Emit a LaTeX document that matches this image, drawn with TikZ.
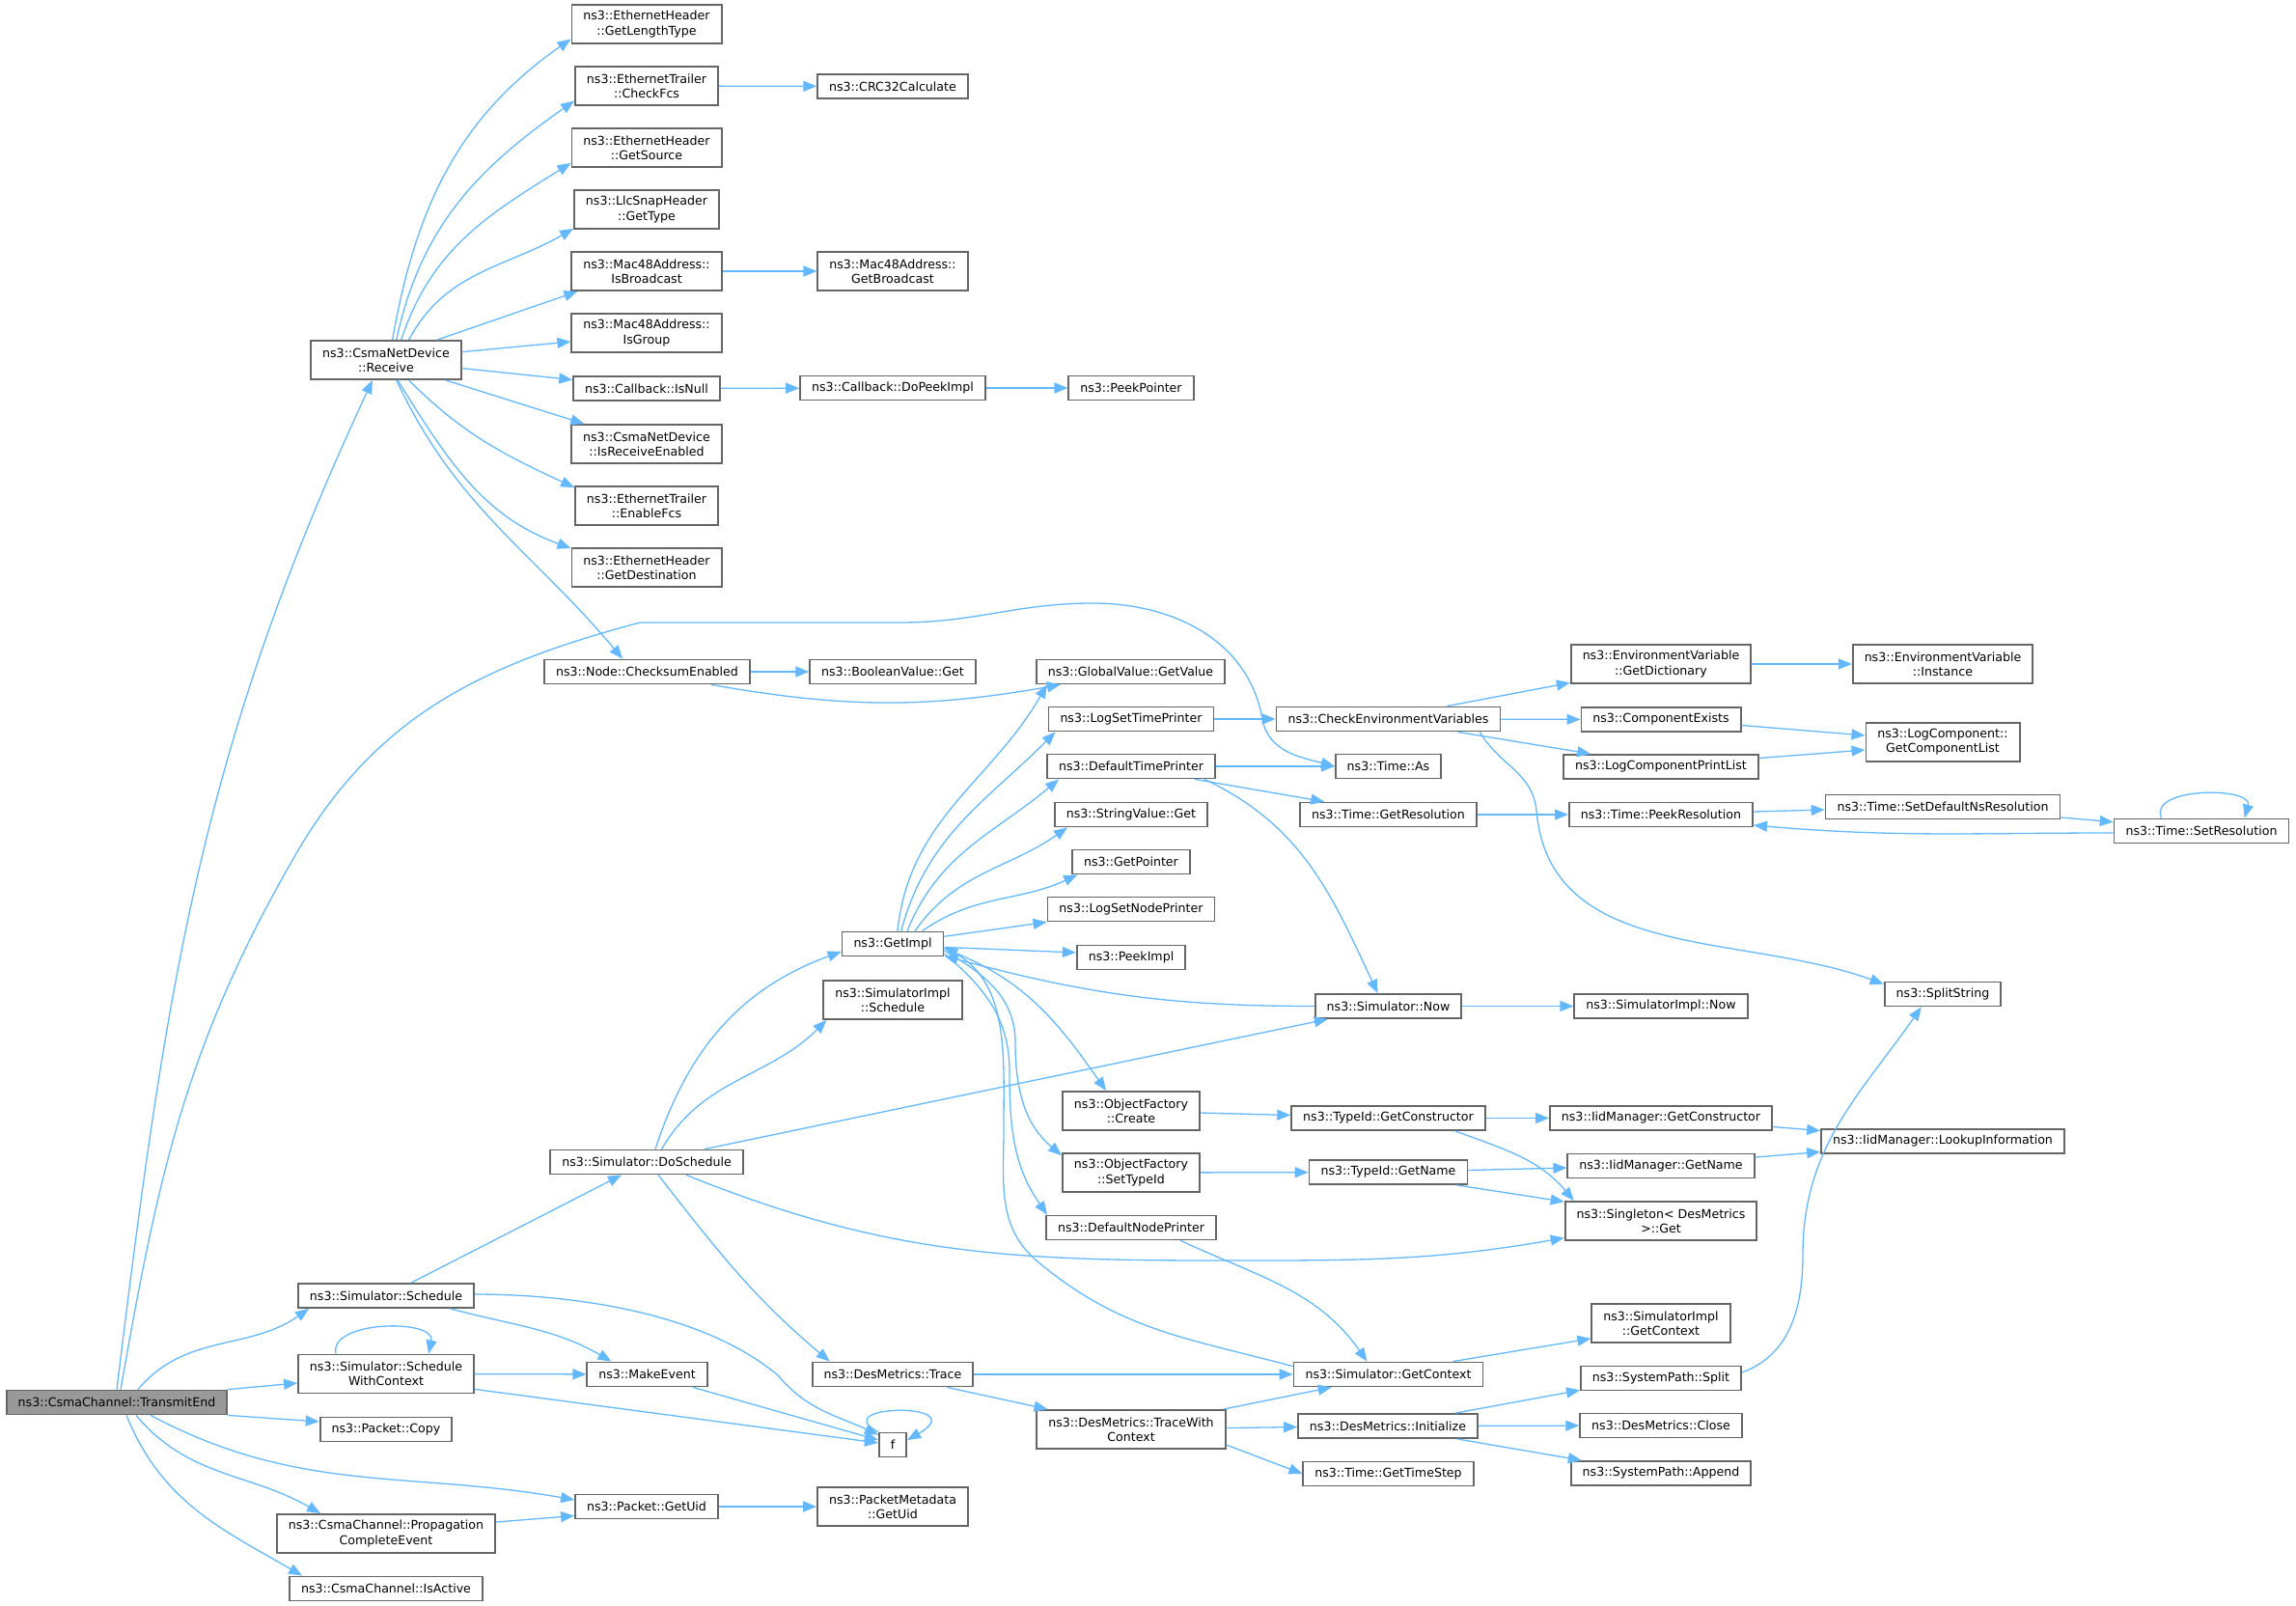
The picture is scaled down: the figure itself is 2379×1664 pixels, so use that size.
\documentclass[tikz,border=0pt]{standalone}
\usepackage{fontspec}
\setmainfont{DejaVu Sans}
\usepackage{tikz}
\usetikzlibrary{
  positioning,
  arrows.meta
}
\definecolor{edgeblue}{HTML}{63B8FF}
\definecolor{boxgray}{HTML}{666666}
\definecolor{rootgray}{HTML}{999999}
\newcommand{\graphfont}{\fontsize{6.3}{7.6}\selectfont}

\begin{document}
\begin{tikzpicture}[x=0.5pt,y=-0.5pt,>={Triangle[length=7pt,width=5.5pt]},
    fn/.style={draw=boxgray,line width=0.9pt,fill=white,inner xsep=6pt,inner ysep=3pt,minimum height=12.5pt,align=center,font=\graphfont},
    fnn/.style={fn,minimum height=20pt},
    root/.style={fn,fill=rootgray},
    call/.style={->,draw=edgeblue,line width=0.65pt}]
            \useasboundingbox (0,0) rectangle (2379,1664);

            \node[root] (te) at (121,1453) {ns3::CsmaChannel::TransmitEnd};

            \node[fnn] (recv) at (400,373) {ns3::CsmaNetDevice\\::Receive};
            \node[fn] (sched) at (400,1342.5) {ns3::Simulator::Schedule};
            \node[fnn] (schedctx) at (400,1423.5) {ns3::Simulator::Schedule\\WithContext};
            \node[fn] (pcopy) at (400,1481) {ns3::Packet::Copy};
            \node[fnn] (propev) at (400,1589) {ns3::CsmaChannel::Propagation\\CompleteEvent};
            \node[fn] (isact) at (400,1646) {ns3::CsmaChannel::IsActive};

            \node[fnn] (glt) at (670,25) {ns3::EthernetHeader\\::GetLengthType};
            \node[fnn] (chkfcs) at (670,89) {ns3::EthernetTrailer\\::CheckFcs};
            \node[fnn] (gsrc) at (670,153) {ns3::EthernetHeader\\::GetSource};
            \node[fnn] (llc) at (670,217) {ns3::LlcSnapHeader\\::GetType};
            \node[fnn] (isbc) at (670,281) {ns3::Mac48Address::\\IsBroadcast};
            \node[fnn] (isgrp) at (670,345) {ns3::Mac48Address::\\IsGroup};
            \node[fn] (isnull) at (670,402.5) {ns3::Callback::IsNull};
            \node[fnn] (isrecv) at (670,460) {ns3::CsmaNetDevice\\::IsReceiveEnabled};
            \node[fnn] (enfcs) at (670,524) {ns3::EthernetTrailer\\::EnableFcs};
            \node[fnn] (gdst) at (670,588) {ns3::EthernetHeader\\::GetDestination};
            \node[fn] (cksum) at (670.5,696) {ns3::Node::ChecksumEnabled};
            \node[fn] (dosch) at (670,1204) {ns3::Simulator::DoSchedule};
            \node[fn] (mkev) at (670.5,1424) {ns3::MakeEvent};
            \node[fn] (puid) at (670,1561) {ns3::Packet::GetUid};

            \node[fn] (crc) at (925,89.5) {ns3::CRC32Calculate};
            \node[fnn] (gbc) at (925,281) {ns3::Mac48Address::\\GetBroadcast};
            \node[fn] (dopeek) at (925,402) {ns3::Callback::DoPeekImpl};
            \node[fn] (boolget) at (925,696) {ns3::BooleanValue::Get};
            \node[fn] (getimpl) at (925,978) {ns3::GetImpl};
            \node[fnn] (simimplsch) at (925,1036) {ns3::SimulatorImpl\\::Schedule};
            \node[fn] (trace) at (925,1424) {ns3::DesMetrics::Trace};
            \node[fn] (f) at (925,1497) {f};
            \node[fnn] (pmuid) at (925,1561) {ns3::PacketMetadata\\::GetUid};

            \node[fn] (peekptr) at (1172,402) {ns3::PeekPointer};
            \node[fn] (gvget) at (1171.5,696) {ns3::GlobalValue::GetValue};
            \node[fn] (logtp) at (1172,745) {ns3::LogSetTimePrinter};
            \node[fn] (deftp) at (1172,794) {ns3::DefaultTimePrinter};
            \node[fn] (strget) at (1172,844) {ns3::StringValue::Get};
            \node[fn] (getptr) at (1172,893) {ns3::GetPointer};
            \node[fn] (lognp) at (1172,942) {ns3::LogSetNodePrinter};
            \node[fn] (peekimpl) at (1172,992) {ns3::PeekImpl};
            \node[fnn] (ofcreate) at (1172,1151) {ns3::ObjectFactory\\::Create};
            \node[fnn] (ofsettid) at (1172,1215) {ns3::ObjectFactory\\::SetTypeId};
            \node[fn] (defnp) at (1172,1272) {ns3::DefaultNodePrinter};
            \node[fnn] (tracectx) at (1172,1481) {ns3::DesMetrics::TraceWith\\Context};

            \node[fn] (checkenv) at (1438.5,745) {ns3::CheckEnvironmentVariables};
            \node[fn] (tas) at (1438.5,794) {ns3::Time::As};
            \node[fn] (tgetres) at (1438.5,844) {ns3::Time::GetResolution};
            \node[fn] (simnow) at (1438.5,1042.5) {ns3::Simulator::Now};
            \node[fn] (tidctor) at (1438.5,1158.5) {ns3::TypeId::GetConstructor};
            \node[fn] (tidname) at (1438.5,1214.5) {ns3::TypeId::GetName};
            \node[fn] (simctx) at (1438.5,1424) {ns3::Simulator::GetContext};
            \node[fn] (dminit) at (1438,1477.5) {ns3::DesMetrics::Initialize};
            \node[fn] (tstep) at (1438.5,1527) {ns3::Time::GetTimeStep};

            \node[fnn] (envdict) at (1721,688) {ns3::EnvironmentVariable\\::GetDictionary};
            \node[fn] (compex) at (1721,745.5) {ns3::ComponentExists};
            \node[fn] (logcpl) at (1721,794.5) {ns3::LogComponentPrintList};
            \node[fn] (tpeekres) at (1721,844) {ns3::Time::PeekResolution};
            \node[fn] (simimplnow) at (1721,1042.5) {ns3::SimulatorImpl::Now};
            \node[fn] (iidctor) at (1721,1158.5) {ns3::IidManager::GetConstructor};
            \node[fn] (iidname) at (1721,1208) {ns3::IidManager::GetName};
            \node[fnn] (singget) at (1721,1265) {ns3::Singleton< DesMetrics\\>::Get};
            \node[fnn] (simimplctx) at (1721,1371) {ns3::SimulatorImpl\\::GetContext};
            \node[fn] (spsplit) at (1721,1428) {ns3::SystemPath::Split};
            \node[fn] (dmclose) at (1721,1477) {ns3::DesMetrics::Close};
            \node[fn] (spappend) at (1721,1526.5) {ns3::SystemPath::Append};

            \node[fnn] (envinst) at (2013,688) {ns3::EnvironmentVariable\\::Instance};
            \node[fnn] (lcgcl) at (2013,769) {ns3::LogComponent::\\GetComponentList};
            \node[fn] (tsetdef) at (2013,836) {ns3::Time::SetDefaultNsResolution};
            \node[fn] (splitstr) at (2013,1030) {ns3::SplitString};
            \node[fn] (iidlookup) at (2013,1182.5) {ns3::IidManager::LookupInformation};

            \node[fn] (tsetres) at (2281,861) {ns3::Time::SetResolution};

            \draw[call] (te.north) to[out=83,in=245] ([xshift=-7pt]recv.south);
            \draw[call] ([xshift=2pt]te.north) to[out=80,in=240] (306,886) to[out=60,in=195] (663,645) -- (933,645) to[out=0,in=180] (1132,625) to[out=0,in=100] (1308,745) to[out=-80,in=165] (tas.west);
            \draw[call] ([xshift=11pt]te.north) to[out=50,in=215] ([xshift=6pt]sched.south west);
            \draw[call] (te.north east) -- ([yshift=-4.75pt]schedctx.west);
            \draw[call] (te.south east) -- ([yshift=4pt]pcopy.west);
            \draw[call] ([xshift=17.5pt]te.south) to[out=-28,in=170] ([yshift=3.5pt]puid.west);
            \draw[call] ([xshift=10pt]te.south) to[out=-50,in=150] ([xshift=23pt]propev.north west);
            \draw[call] ([xshift=5pt]te.south) to[out=-68,in=150] ([xshift=7pt]isact.north west);

            \draw[call] ([xshift=3.3pt]recv.north) to[out=80,in=215] ([yshift=2.75pt]glt.south west);
            \draw[call] ([xshift=5.4pt]recv.north) to[out=78,in=215] ([yshift=2.7pt]chkfcs.south west);
            \draw[call] ([xshift=7.9pt]recv.north) to[out=72,in=212] ([yshift=2.5pt]gsrc.south west);
            \draw[call] ([xshift=11.8pt]recv.north) to[out=62,in=210] ([yshift=0.5pt]llc.south west);
            \draw[call] ([xshift=26.5pt]recv.north) -- ([xshift=3.5pt]isbc.south west);
            \draw[call] ([yshift=4.2pt]recv.east) -- ([yshift=-4.5pt]isgrp.west);
            \draw[call] ([yshift=-4.3pt]recv.east) -- ([yshift=4.5pt]isnull.west);
            \draw[call] ([xshift=30.8pt]recv.south) -- ([xshift=7pt]isrecv.north west);
            \draw[call] ([xshift=11.8pt]recv.south) to[out=-45,in=155] ([yshift=-1pt]enfcs.north west);
            \draw[call] ([xshift=6pt]recv.south) to[out=-58,in=160] ([yshift=-0.5pt]gdst.north west);
            \draw[call] ([xshift=5.4pt]recv.south) to[out=-65,in=130] ([xshift=41pt]cksum.north west);

            \draw[call] (chkfcs) -- (crc);
            \draw[call] (isbc) -- (gbc);
            \draw[call] (isnull) -- (dopeek);
            \draw[call] (dopeek) -- (peekptr);
            \draw[call] (cksum) -- (boolget);
            \draw[call] ([xshift=-20.5pt]cksum.south east) to[out=-10,in=190] ([xshift=13pt]gvget.south west);

            \draw[call] ([xshift=13pt]sched.north) -- ([xshift=-13pt]dosch.south);
            \draw[call] ([xshift=-12.7pt]sched.south east) to[out=-15,in=150] ([xshift=13pt]mkev.north west);
            \draw[call] ([yshift=0.75pt]sched.east) to[out=0,in=140,looseness=0.8] (806,1425) to[out=-50,in=155] ([yshift=-1.5pt]f.north west);
            \draw[call] ([xshift=20pt]schedctx.north west) .. controls (340,1368) and (452,1366) .. ([xshift=68pt]schedctx.north west);
            \draw[call] (schedctx) -- (mkev);
            \draw[call] ([yshift=2.5pt]schedctx.south east) -- ([yshift=1pt]f.west);
            \draw[call] ([xshift=-7.75pt]mkev.south east) -- ([yshift=2.5pt]f.west);
            \draw[call] (f.north west) .. controls (855,1455) and (1010,1452) .. ([yshift=2.5pt]f.east);
            \draw[call] (puid) -- (pmuid);
            \draw[call] ([yshift=6pt]propev.east) -- ([yshift=-4.75pt]puid.west);

            \draw[call] ([xshift=4.5pt]dosch.north) to[out=72,in=200] ([yshift=-4pt]getimpl.west);
            \draw[call] ([xshift=7.8pt]dosch.north) to[out=60,in=225] ([xshift=2pt]simimplsch.south west);
            \draw[call] ([xshift=30pt]dosch.north) -- ([xshift=7pt]simnow.south west);
            \draw[call] ([xshift=6pt]dosch.south) to[out=-52,in=140] ([xshift=9.5pt]trace.north west);
            \draw[call] ([xshift=20.5pt]dosch.south) to[out=-22,in=180] (1259,1306) to[out=0,in=190] ([yshift=1.65pt]singget.south west);

            \draw[call] ([xshift=2.5pt]getimpl.north) to[out=84,in=240] ([xshift=6pt]gvget.south west);
            \draw[call] ([xshift=4.35pt]getimpl.north) to[out=75,in=225] ([xshift=4pt]logtp.south west);
            \draw[call] ([xshift=7.5pt]getimpl.north) to[out=68,in=220] ([xshift=6.5pt]deftp.south west);
            \draw[call] ([xshift=11.5pt]getimpl.north) to[out=55,in=215] ([xshift=7pt]strget.south west);
            \draw[call] ([xshift=15.3pt]getimpl.north) to[out=35,in=205] ([xshift=3pt]getptr.south west);
            \draw[call] ([yshift=-2.85pt]getimpl.north east) -- (lognp.south west);
            \draw[call] ([yshift=-1.7pt]getimpl.east) -- ([yshift=2.5pt]peekimpl.west);
            \draw[call] ([yshift=-2.5pt]getimpl.east) to[out=-20,in=125] ([xshift=23pt]ofcreate.north west);
            \draw[call] ([yshift=-3.5pt]getimpl.east) to[out=-30,in=90] (1052,1080) to[out=-90,in=140] ([yshift=-1.5pt]ofsettid.north west);
            \draw[call] ([yshift=-5pt]getimpl.east) to[out=-40,in=90] (1046,1110) to[out=-90,in=125] ([xshift=1pt]defnp.north west);
            \draw[call] (simnow.west) to[out=180,in=-15] ([yshift=0.5pt]getimpl.south east);
            \draw[call] ([yshift=-2.5pt]simctx.north west) to[out=165,in=-40] (1075,1307) to[out=140,in=-90] (1040,1170) to[out=90,in=-30] ([yshift=-1.5pt]getimpl.east);

            \draw[call] (simnow) -- (simimplnow);
            \draw[call] (deftp) -- (tas);
            \draw[call] ([xshift=-11pt]deftp.south east) -- ([xshift=13pt]tgetres.north west);
            \draw[call] ([xshift=-6pt]deftp.south east) to[out=-25,in=115] ([xshift=-5.5pt]simnow.north);
            \draw[call] (logtp) -- (checkenv);

            \draw[call] ([xshift=-28pt]checkenv.north east) -- ([yshift=0.75pt]envdict.south west);
            \draw[call] (checkenv) -- (compex);
            \draw[call] ([xshift=-22.5pt]checkenv.south east) -- ([xshift=14.5pt]logcpl.north west);
            \draw[call] ([xshift=-11pt]checkenv.south east) to[out=-60,in=95] (1592,840) to[out=-85,in=160] ([yshift=-1.5pt]splitstr.north west);
            \draw[call] (envdict) -- (envinst);
            \draw[call] ([yshift=-3pt]compex.east) -- ([yshift=3.5pt]lcgcl.west);
            \draw[call] ([yshift=4.5pt]logcpl.east) -- ([yshift=-4pt]lcgcl.west);
            \draw[call] (tgetres) -- (tpeekres);
            \draw[call] ([yshift=1.5pt]tpeekres.east) -- ([yshift=-1.5pt]tsetdef.west);
            \draw[call] ([yshift=-5.5pt]tsetdef.east) -- ([yshift=4.65pt]tsetres.west);
            \draw[call] ([yshift=-1pt]tsetres.west) to[out=180,in=-5] ([yshift=-5.5pt]tpeekres.east);
            \draw[call] ([xshift=25pt]tsetres.north west) .. controls (2225,815) and (2335,815) .. ([xshift=68pt]tsetres.north west);

            \draw[call] ([yshift=-1pt]ofcreate.east) -- ([yshift=1.5pt]tidctor.west);
            \draw[call] (ofsettid) -- (tidname);
            \draw[call] (tidctor) -- (iidctor);
            \draw[call] ([xshift=-16pt]tidctor.south east) to[out=-20,in=130] ([xshift=5pt]singget.north west);
            \draw[call] ([yshift=1pt]tidname.east) -- ([yshift=-1pt]iidname.west);
            \draw[call] ([xshift=-6pt]tidname.south east) -- ([yshift=-0.5pt]singget.north west);
            \draw[call] ([yshift=-4.5pt]iidctor.east) -- ([yshift=5.5pt]iidlookup.west);
            \draw[call] ([yshift=4.5pt]iidname.east) -- ([yshift=-5.5pt]iidlookup.west);
            \draw[call] ([yshift=3pt]spsplit.east) to[out=20,in=-90] (1868,1300) to[out=90,in=235] ([xshift=19.5pt]splitstr.south west);

            \draw[call] (trace) -- (simctx);
            \draw[call] ([xshift=-14pt]trace.south east) -- ([xshift=6pt]tracectx.north west);
            \draw[call] ([xshift=-18.75pt]defnp.south east) to[out=-25,in=125] ([xshift=-11pt]simctx.north);
            \draw[call] ([xshift=-1.5pt]tracectx.north east) -- ([xshift=20pt]simctx.south west);
            \draw[call] ([yshift=0.7pt]tracectx.east) -- ([yshift=-0.5pt]dminit.west);
            \draw[call] ([yshift=-8pt]tracectx.east) -- (tstep.west);
            \draw[call] ([xshift=-12pt]dminit.north east) -- ([yshift=0.5pt]spsplit.south west);
            \draw[call] (dminit) -- (dmclose);
            \draw[call] ([xshift=-11pt]dminit.south east) -- ([xshift=6pt]spappend.north west);
            \draw[call] ([xshift=-16pt]simctx.north east) -- ([yshift=2.5pt]simimplctx.south west);
        \end{tikzpicture}
\end{document}
